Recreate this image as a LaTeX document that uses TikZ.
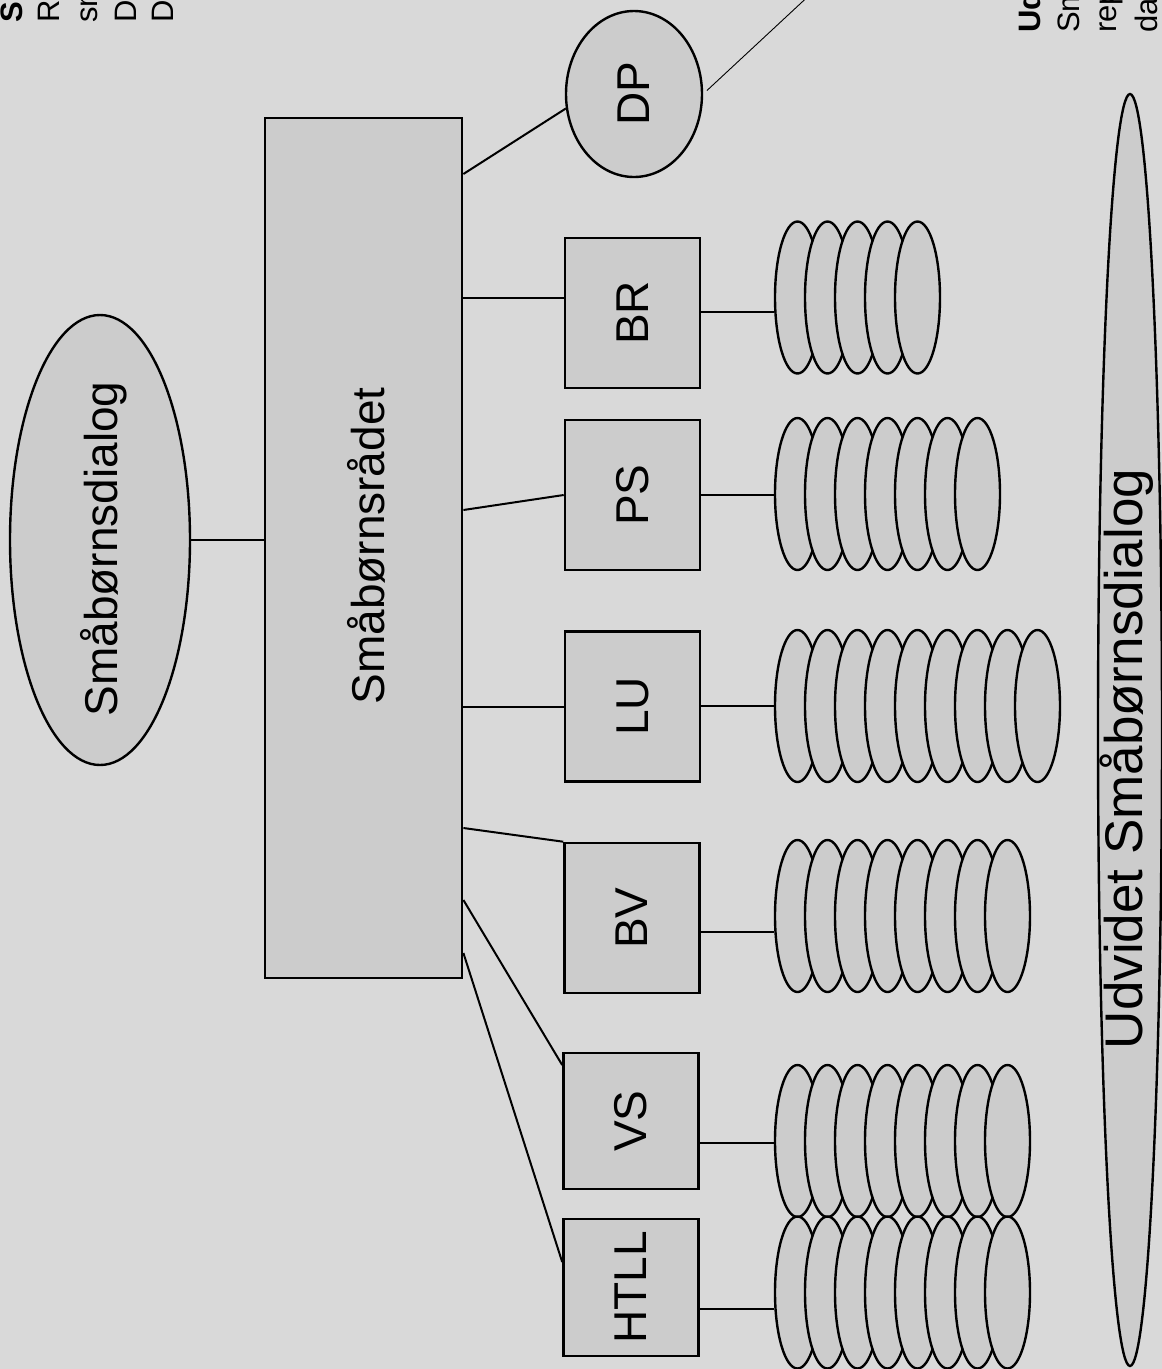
\documentclass[tikz,border=0pt]{standalone}
\usepackage{fontspec}
\setmainfont{Liberation Sans}
\usetikzlibrary{shapes.geometric,calc}
\definecolor{bgc}{gray}{0.85}
\definecolor{shp}{gray}{0.80}
\begin{document}
\begin{tikzpicture}[x=1pt,y=-1pt,
  box/.style={draw,line width=2.6pt,fill=shp,inner sep=0,minimum width=135,minimum height=150},
  oval/.style={ellipse,draw,line width=2.4pt,fill=shp,inner sep=0},
  stackel/.style={oval,minimum width=45,minimum height=152},
  conn/.style={line width=2pt},
  big/.style={rotate=90,font=\fontsize{46}{55}\selectfont,inner sep=0},
  side/.style={rotate=90,anchor=base west,inner sep=0,font=\fontsize{31}{37}\selectfont}]
\fill[bgc] (0,0) rectangle (1162,1369);
\useasboundingbox (0,0) rectangle (1162,1369);
\clip (0,0) rectangle (1162,1369);

% shapes
\node[oval,minimum width=180,minimum height=450] (sd) at (100,540) {};
\node[draw,line width=2.8pt,fill=shp,inner sep=0,minimum width=197,minimum height=860] (rect) at (363.5,548) {};
\node[box] (br) at (632.5,313) {};
\node[box] (ps) at (632.5,495) {};
\node[box] (lu) at (632.5,706.5) {};
\node[box] (bv) at (632,918) {};
\node[box,minimum height=136] (vs) at (631,1121) {};
\node[box,minimum height=137] (htll) at (631,1287.5) {};
\node[oval,minimum width=136,minimum height=166] (dp) at (634,94) {};
\node[oval,minimum width=64,minimum height=1272] (ud) at (1130,730) {};

% stacks
\foreach \i in {1,...,5} \node[stackel] (brs\i) at ({797.5+30*(\i-1)},297.5) {};
\foreach \i in {1,...,7} \node[stackel] (pss\i) at ({797.5+30*(\i-1)},494) {};
\foreach \i in {1,...,9} \node[stackel] (lus\i) at ({797.5+30*(\i-1)},706) {};
\foreach \i in {1,...,8} \node[stackel] (bvs\i) at ({797.5+30*(\i-1)},916) {};
\foreach \i in {1,...,8} \node[stackel] (vss\i) at ({797.5+30*(\i-1)},1141) {};
\foreach \i in {1,...,8} \node[stackel] (hts\i) at ({797.5+30*(\i-1)},1292.5) {};

% helper coordinates
\coordinate (ydp) at (0,174);
\coordinate (ybr) at (0,298);
\coordinate (yps) at (0,510);
\coordinate (ybv) at (0,828);
\coordinate (yvs) at (0,900);
\coordinate (yvsb) at (0,1065);
\coordinate (yht) at (0,953);
\coordinate (yhtb) at (0,1262);
\coordinate (lbr) at (0,312);
\coordinate (lps) at (0,495);
\coordinate (llu) at (0,706);
\coordinate (lbv) at (0,932);
\coordinate (lvs) at (0,1143);
\coordinate (lht) at (0,1309);
\coordinate (dpfar) at (815,-10);

% connectors
\draw[conn] (sd.east) -- (rect.west |- sd.east);
\draw[conn] (rect.east |- ydp) -- (dp.192);
\draw[line width=0.9pt,shorten <=5pt] (dp.east) -- (dpfar);
\draw[conn] (rect.east |- ybr) -- (br.west |- ybr);
\draw[conn] (rect.east |- yps) -- (ps.west);
\draw[conn] (rect.east |- lu.west) -- (lu.west);
\draw[conn] (rect.east |- ybv) -- (bv.north west);
\draw[conn] (rect.east |- yvs) -- (vs.west |- yvsb);
\draw[conn] (rect.east |- yht) -- (htll.west |- yhtb);
\draw[conn] (br.east |- lbr) -- (brs1.west |- lbr);
\draw[conn] (ps.east |- lps) -- (pss1.west |- lps);
\draw[conn] (lu.east |- llu) -- (lus1.west |- llu);
\draw[conn] (bv.east |- lbv) -- (bvs1.west |- lbv);
\draw[conn] (vs.east |- lvs) -- (vss1.west |- lvs);
\draw[conn] (htll.east |- lht) -- (hts1.west |- lht);

% labels
\node[big] (sdt) at (104,549) {Småbørnsdialog};
\node[big] (rectt) at (366,546) {Småbørnsrådet};
\node[big] (brt) at (br) {BR};
\node[big] (pst) at (ps) {PS};
\node[big] (lut) at (lu) {LU};
\node[big] (bvt) at (bv) {BV};
\node[big] (vst) at (vs) {VS};
\node[big] (htllt) at (htll) {HTLL};
\node[big] (dpt) at (dp) {DP};
\node[big,font=\fontsize{53}{63}\selectfont] (udt) at (1127,759) {Udvidet Småbørnsdialog};

% cut-off margin texts
\node[side] (tl1) at (22,23) {\bfseries S};
\node[side] (tl2) at (59,23) {R};
\node[side] (tl3) at (97,23) {sm};
\node[side] (tl4) at (136,23) {D};
\node[side] (tl5) at (173,23) {D};
\node[side] (tr1) at (1040,33) {\bfseries Ud};
\node[side] (tr2) at (1079,33) {Sm};
\node[side] (tr3) at (1116,33) {rep};
\node[side] (tr4) at (1157,33) {da};
\end{tikzpicture}
\end{document}
